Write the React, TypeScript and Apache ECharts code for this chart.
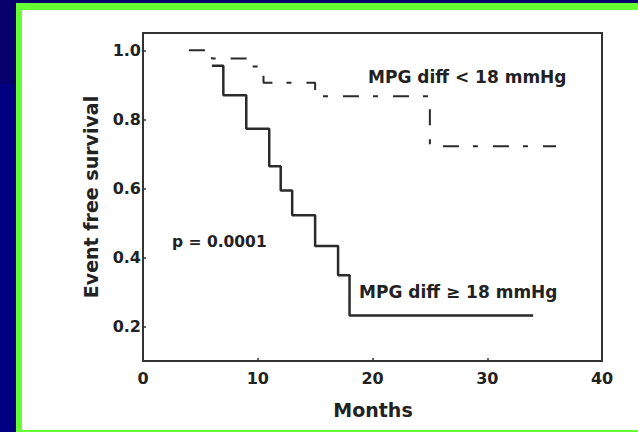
import React, { useEffect, useRef } from 'react';
import * as echarts from 'echarts';

// Kaplan-Meier curves
const highMonths = [6, 7, 9, 11, 12, 13, 15, 17, 18, 34];
const highSurvival = [0.955, 0.87, 0.773, 0.664, 0.594, 0.522, 0.433, 0.348, 0.232, 0.232];
const lowMonths = [4, 6, 9.5, 10.5, 15, 25, 36];
const lowSurvival = [1.0, 0.976, 0.953, 0.906, 0.867, 0.722, 0.722];

const xTicks = [0, 10, 20, 30, 40];
const yTicks = [0.2, 0.4, 0.6, 0.8, 1.0];

const xTitle = 'Months';
const yTitle = 'Event free survival';
const lowLabel = 'MPG diff < 18 mmHg';
const highLabel = 'MPG diff \u2265 18 mmHg';
const pLabel = 'p = 0.0001';

const FONT = '"DejaVu Sans", sans-serif';
const INK = '#222222';

export default function App() {
  const ref = useRef<HTMLDivElement>(null);

  useEffect(() => {
    if (!ref.current) return;
    const chart = echarts.init(ref.current, null, { renderer: 'svg' });
    const highData = highMonths.map((m, i) => [m, highSurvival[i]]);
    const lowData = lowMonths.map((m, i) => [m, lowSurvival[i]]);
    chart.setOption({
      animation: false,
      backgroundColor: 'transparent',
      grid: {
        left: 143,
        top: 33,
        width: 459,
        height: 328,
        show: true,
        borderColor: '#333',
        borderWidth: 2,
        backgroundColor: 'transparent',
        outerBoundsMode: 'none',
      },
      xAxis: {
        type: 'value',
        min: xTicks[0],
        max: xTicks[xTicks.length - 1],
        interval: 10,
        splitLine: { show: false },
        axisLine: { show: true, lineStyle: { color: '#333', width: 2 } },
        axisTick: { show: true, inside: true, length: 3, lineStyle: { color: '#333', width: 1.5 } },
        axisLabel: {
          margin: 9,
          fontFamily: FONT,
          fontWeight: 'bold',
          fontSize: 16,
          color: INK,
        },
      },
      yAxis: {
        type: 'value',
        min: 0.1,
        max: 1.05,
        splitLine: { show: false },
        axisLine: { show: true, lineStyle: { color: '#333', width: 2 } },
        axisTick: {
          show: true,
          inside: true,
          length: 3,
          customValues: yTicks,
          lineStyle: { color: '#333', width: 1.5 },
        },
        axisLabel: {
          margin: 2,
          customValues: yTicks,
          formatter: (v: number) => v.toFixed(1),
          fontFamily: FONT,
          fontWeight: 'bold',
          fontSize: 16,
          color: INK,
        },
      },
      series: [
        {
          type: 'line',
          step: 'end',
          data: highData,
          symbol: 'none',
          lineStyle: { color: '#2a2a2a', width: 2.5 },
        },
        {
          type: 'line',
          step: 'end',
          data: lowData,
          symbol: 'none',
          lineStyle: { color: '#2a2a2a', width: 2, type: [16, 14, 5, 15] },
        },
      ],
      graphic: [
        {
          type: 'text',
          x: 368,
          y: 77,
          style: {
            text: lowLabel,
            font: `bold 17px ${FONT}`,
            fill: INK,
            align: 'left',
            verticalAlign: 'middle',
          },
        },
        {
          type: 'text',
          x: 359,
          y: 292,
          style: {
            text: highLabel,
            font: `bold 17px ${FONT}`,
            fill: INK,
            align: 'left',
            verticalAlign: 'middle',
          },
        },
        {
          type: 'text',
          x: 172,
          y: 242,
          style: {
            text: pLabel,
            font: `bold 15.5px ${FONT}`,
            fill: INK,
            align: 'left',
            verticalAlign: 'middle',
          },
        },
        {
          type: 'text',
          x: 373,
          y: 410,
          style: {
            text: xTitle,
            font: `bold 19px ${FONT}`,
            fill: INK,
            align: 'center',
            verticalAlign: 'middle',
          },
        },
        {
          type: 'text',
          x: 91,
          y: 197,
          rotation: Math.PI / 2,
          style: {
            text: yTitle,
            font: `bold 19px ${FONT}`,
            fill: INK,
            align: 'center',
            verticalAlign: 'middle',
          },
        },
      ],
    });
    return () => chart.dispose();
  }, []);

  return (
    <div
      style={{
        position: 'fixed',
        left: 0,
        top: 0,
        width: 638,
        height: 432,
        background: '#000080',
        overflow: 'hidden',
      }}
    >
      <div style={{ position: 'absolute', left: 0, top: 0, width: 638, height: 3, background: '#07006a' }} />
      <div style={{ position: 'absolute', left: 0, top: 0, width: 16, height: 84, background: '#07006a' }} />
      <div style={{ position: 'absolute', left: 16, top: 3, width: 622, height: 429, background: '#66ff33' }} />
      <div style={{ position: 'absolute', left: 22, top: 10, width: 616, height: 420, background: '#ffffff' }} />
      <div ref={ref} style={{ position: 'absolute', left: 0, top: 0, width: 638, height: 432 }} />
    </div>
  );
}
